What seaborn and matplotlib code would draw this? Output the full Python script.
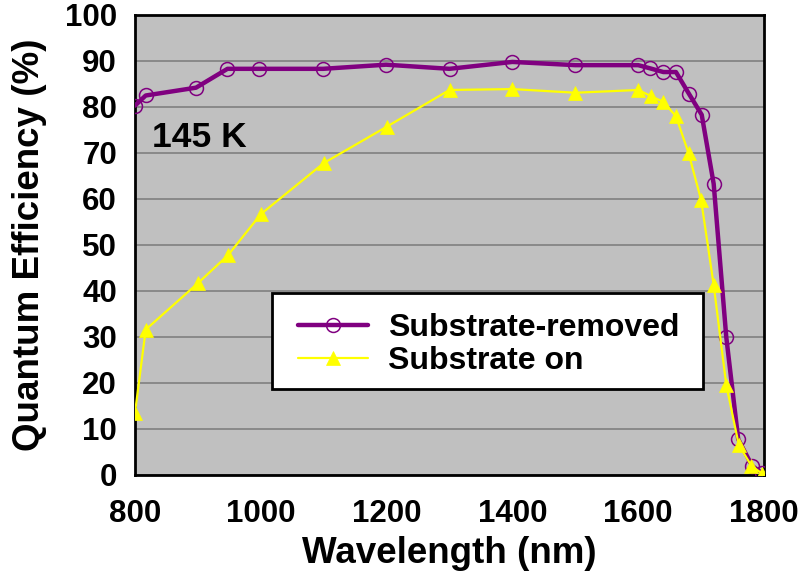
import matplotlib
matplotlib.use("Agg")
import matplotlib.pyplot as plt
from matplotlib.patches import Rectangle
import seaborn as sns
import pandas as pd

# Data
wl_removed = [800, 817, 897, 947, 997, 1099, 1199, 1300, 1400, 1500, 1600, 1619, 1640, 1660,
              1681, 1701, 1720, 1740, 1759, 1781, 1797]
qe_removed = [80.3, 82.5, 84.2, 88.3, 88.3, 88.3, 89.2, 88.3, 89.8, 89.1, 89.1, 88.4, 87.6, 87.6,
              82.8, 78.3, 63.3, 30.0, 7.8, 2.0, 0.4]
wl_on = [800, 817, 900, 948, 1000, 1100, 1200, 1300, 1400, 1500, 1600, 1620, 1640, 1660,
         1680, 1700, 1720, 1740, 1760, 1780, 1797]
qe_on = [13.5, 31.6, 41.7, 47.8, 56.7, 67.8, 75.7, 83.7, 83.9, 83.1, 83.7, 82.4, 81.1, 78.0,
         70.0, 59.8, 41.3, 19.6, 6.5, 2.0, 0.3]
label_removed = "Substrate-removed"
label_on = "Substrate on"
x_ticks = [800, 1000, 1200, 1400, 1600, 1800]
y_ticks = list(range(0, 101, 10))

df_r = pd.DataFrame({"wl": wl_removed, "qe": qe_removed})
df_o = pd.DataFrame({"wl": wl_on, "qe": qe_on})

sns.set_theme(style="white")
plt.rcParams["font.family"] = ["Liberation Sans", "DejaVu Sans"]
plt.rcParams["font.weight"] = "bold"
plt.rcParams["text.color"] = "black"
plt.rcParams["axes.labelcolor"] = "black"
plt.rcParams["xtick.color"] = "black"
plt.rcParams["ytick.color"] = "black"

fig = plt.figure(figsize=(8.06, 5.74), dpi=100)
ax = fig.add_axes([135 / 806, 1 - 475 / 574, 629 / 806, 460 / 574])
ax.set_facecolor("#C0C0C0")

purple = "#800080"
yellow = "#FFFF00"

sns.lineplot(data=df_r, x="wl", y="qe", ax=ax, color=purple, linewidth=3.2,
             marker="o", markersize=10, markerfacecolor="none",
             markeredgecolor=purple, markeredgewidth=1.1, label=label_removed,
             zorder=3)
sns.lineplot(data=df_o, x="wl", y="qe", ax=ax, color=yellow, linewidth=1.6,
             marker="^", markersize=10, markerfacecolor=yellow,
             markeredgecolor=yellow, markeredgewidth=0.5, label=label_on,
             zorder=4)

ax.set_xlim(800, 1800)
ax.set_ylim(0, 100)
ax.set_xticks(x_ticks)
ax.set_yticks(y_ticks)
ax.tick_params(axis="both", length=0, labelsize=22.5, labelcolor="black")
ax.tick_params(axis="x", pad=17)
ax.tick_params(axis="y", pad=13)
for lab in ax.get_xticklabels() + ax.get_yticklabels():
    lab.set_fontweight("bold")
ax.yaxis.grid(True, color="#808080", linewidth=1.2)
ax.xaxis.grid(False)
ax.set_axisbelow(True)
for sp in ax.spines.values():
    sp.set_color("black")
    sp.set_linewidth(2)
    sp.set_visible(True)

ax.set_xlabel("Wavelength (nm)", fontsize=26.5, fontweight="bold", color="black", labelpad=5)
ax.set_ylabel("Quantum Efficiency (%)", fontsize=26.5, fontweight="bold", color="black")
ax.yaxis.set_label_coords(-0.14, 0.5)

ax.text(827, 71.3, "145 K", fontsize=25.5, fontweight="bold", color="black",
        ha="left", va="baseline")

# legend frame
frame = Rectangle((0.218, 0.187), 0.903 - 0.218, 0.396 - 0.187, transform=ax.transAxes,
                  facecolor="white", edgecolor="black", linewidth=2, zorder=4.8)
ax.add_patch(frame)
leg = ax.legend(loc="center left", bbox_to_anchor=(0.259, 0.283), borderaxespad=0,
                fontsize=23, frameon=False, handlelength=2.19,
                handletextpad=0.63, labelspacing=0.1, borderpad=0)
leg.set_zorder(5)
for t in leg.get_texts():
    t.set_fontweight("bold")
    t.set_color("black")

fig.savefig("out.png", dpi=100)
